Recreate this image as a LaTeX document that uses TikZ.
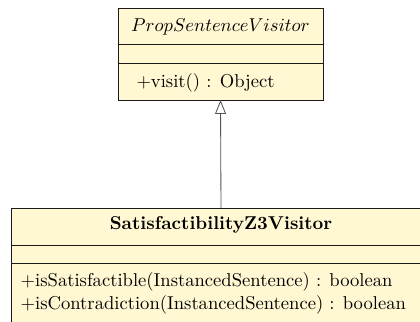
\documentclass[tikz,border=0pt]{standalone}
\usetikzlibrary{arrows.meta,fit}
\definecolor{umlfill}{HTML}{FFF8D3}
\definecolor{umlline}{HTML}{1A1A1A}
\tikzset{
  classbox/.style={draw=umlline, line width=0.45pt, fill=umlfill, inner sep=0pt, outer sep=0pt},
  sepline/.style={draw=umlline, line width=0.45pt},
  classtext/.style={inner sep=0pt, outer sep=0pt},
  realizes/.style={draw=umlline!75, line width=0.45pt,
    -{Triangle[open, length=7.5pt, width=5.9pt, fill=white]}}
}
\begin{document}
\begin{tikzpicture}[x=0.5376pt, y=-0.5376pt]
  \clip (0,0) rectangle (420,322);

  % abstract visitor class
  \node[classbox, fit={(118,8) (323,100)}] (visitor) {};
  \draw[sepline] (visitor.west |- 0,44) -- (visitor.east |- 0,44);
  \draw[sepline] (visitor.west |- 0,63) -- (visitor.east |- 0,63);
  \node[classtext, anchor=base] (visitortitle) at (220.5,31.5) {$PropSentenceVisitor$};
  \node[classtext, anchor=base west] (visitmethod) at (136.5,87.5) {+visit() : Object};

  % concrete Z3 visitor class
  \node[classbox, fit={(11,208) (431,345)}] (z3) {};
  \draw[sepline] (z3.west |- 0,245) -- (z3.east |- 0,245);
  \draw[sepline] (z3.west |- 0,263) -- (z3.east |- 0,263);
  \node[classtext, anchor=base] (z3title) at (221,229.3) {\textbf{SatisfactibilityZ3Visitor}};
  \node[classtext, anchor=base west] (z3sat) at (20.7,286.7) {+isSatisfactible(InstancedSentence) : boolean};
  \node[classtext, anchor=base west] (z3contra) at (20.7,309) {+isContradiction(InstancedSentence) : boolean};

  % inheritance
  \draw[realizes] (z3.north) -- (visitor.south);
\end{tikzpicture}
\end{document}
